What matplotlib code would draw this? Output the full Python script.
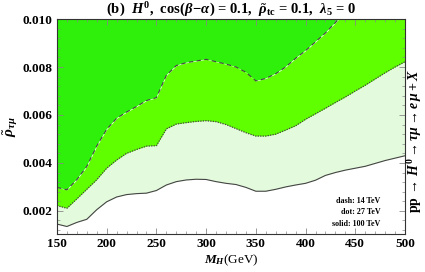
import numpy as np
from matplotlib import pyplot as plt
from matplotlib.ticker import MultipleLocator

plt.rcParams['font.family'] = ['Liberation Serif', 'DejaVu Serif']
plt.rcParams['font.weight'] = 'bold'
plt.rcParams['mathtext.fontset'] = 'custom'
plt.rcParams['mathtext.rm'] = 'Liberation Serif:bold'
plt.rcParams['mathtext.it'] = 'Liberation Serif:italic:bold'
plt.rcParams['mathtext.bf'] = 'Liberation Serif:bold'

# heavy Higgs mass (GeV)
mass = np.arange(150, 501, 10)

# reach in rho_tau_mu for 14 / 27 / 100 TeV
rho_14 = [0.00298, 0.00288, 0.00330, 0.00385, 0.00470, 0.00540, 0.00586, 0.00612,
          0.00635, 0.00660, 0.00672, 0.00765, 0.00806, 0.00818, 0.00825, 0.00832,
          0.00822, 0.00812, 0.00800, 0.00778, 0.00742, 0.00752, 0.00772, 0.00800,
          0.00836, 0.00868, 0.00905, 0.00942, 0.00985, 0.01030, 0.01075, 0.01120,
          0.01165, 0.01210, 0.01255, 0.01300]
rho_27 = [0.00222, 0.00211, 0.00250, 0.00290, 0.00330, 0.00378, 0.00412, 0.00440,
          0.00456, 0.00470, 0.00472, 0.00542, 0.00562, 0.00568, 0.00573, 0.00576,
          0.00572, 0.00560, 0.00543, 0.00526, 0.00512, 0.00512, 0.00520, 0.00537,
          0.00555, 0.00582, 0.00605, 0.00628, 0.00652, 0.00675, 0.00700, 0.00724,
          0.00750, 0.00776, 0.00800, 0.00822]
rho_100 = [0.00145, 0.00135, 0.00152, 0.00165, 0.00205, 0.00238, 0.00258, 0.00268,
           0.00272, 0.00274, 0.00285, 0.00308, 0.00322, 0.00329, 0.00332, 0.00331,
           0.00322, 0.00315, 0.00310, 0.00298, 0.00282, 0.00282, 0.00290, 0.00300,
           0.00308, 0.00315, 0.00328, 0.00348, 0.00360, 0.00370, 0.00378, 0.00386,
           0.00398, 0.00410, 0.00420, 0.00430]

ymin, ymax = 0.00104, 0.010
c_dark, c_mid, c_light = '#2ef00a', '#5fff00', '#e4fadc'
lc = '#444444'

fig = plt.figure(figsize=(4.25, 2.72), dpi=100)
ax = fig.add_axes([0.134, 0.14, 0.819, 0.79])

ax.fill_between(mass, rho_14, 0.02, color=c_dark, lw=0)
ax.fill_between(mass, rho_27, rho_14, color=c_mid, lw=0)
ax.fill_between(mass, rho_100, rho_27, color=c_light, lw=0)
ax.plot(mass, rho_14, color=lc, lw=0.8, ls=(0, (4, 3)))
ax.plot(mass, rho_27, color=lc, lw=0.9, ls=(0, (1, 1)))
ax.plot(mass, rho_100, color=lc, lw=0.8)

ax.set_xlim(150, 500)
ax.set_ylim(ymin, ymax)
ax.set_xticks(np.arange(150, 501, 50))
ax.set_yticks([0.002, 0.004, 0.006, 0.008, 0.010])
ax.set_yticklabels(['0.002', '0.004', '0.006', '0.008', '0.010'])
ax.xaxis.set_minor_locator(MultipleLocator(10))
ax.yaxis.set_minor_locator(MultipleLocator(0.0004))
ax.tick_params(which='both', direction='in', top=True, right=True,
               color='#888888', labelsize=9.5, pad=3)
ax.tick_params(which='major', length=4, width=0.6)
ax.tick_params(which='minor', length=2, width=0.5)
for lab in ax.get_xticklabels() + ax.get_yticklabels():
    lab.set_fontweight('bold')
for s in ax.spines.values():
    s.set_linewidth(0.8)
    s.set_color('#333333')

ax.set_xlabel(r'$M_H$(GeV)', fontsize=9.5, labelpad=2)
ax.set_ylabel(r'$\tilde{\rho}_{\tau\mu}$', fontsize=11, labelpad=2)
ax.set_title(r'(b)  $H^0$,  cos$(\beta\!-\!\alpha)$ = 0.1,  $\tilde{\rho}_{\rm tc}$ = 0.1,  $\lambda_5$ = 0',
             fontsize=10.5, fontweight='bold', pad=3)

ax.text(0.93, 0.155, 'dash: 14 TeV', transform=ax.transAxes, fontsize=5.8, ha='right', va='center')
ax.text(0.93, 0.10, 'dot: 27 TeV', transform=ax.transAxes, fontsize=5.8, ha='right', va='center')
ax.text(0.93, 0.045, 'solid: 100 TeV', transform=ax.transAxes, fontsize=5.8, ha='right', va='center')

fig.text(0.975, 0.48, r'pp$\,\to\,H^0\to\tau\mu\to e\,\mu + X$', rotation=90,
         fontsize=10, fontweight='bold', ha='center', va='center')

fig.savefig('out.png', dpi=100)
